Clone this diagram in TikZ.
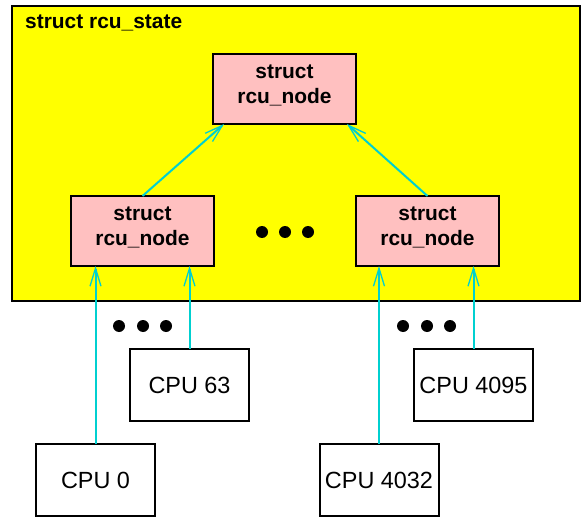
\documentclass[tikz,border=0pt]{standalone}
\usepackage{fontspec}
\setmainfont{Liberation Sans}
\usetikzlibrary{arrows.meta,calc}
\definecolor{ylw}{RGB}{255,255,0}
\definecolor{pnk}{RGB}{255,192,192}
\definecolor{cyn}{RGB}{0,208,208}
\tikzset{
  rcubox/.style={draw=black, line width=2bp, fill=pnk, minimum width=143bp, minimum height=70bp, outer sep=0pt, inner sep=0pt,
    label={[font=\fontsize{21}{24.5}\selectfont\bfseries, align=center, yshift=3.5bp, inner sep=0pt]center:struct\\rcu\_node}},
  cpubox/.style={draw=black, line width=2bp, fill=white, minimum width=119bp, minimum height=72bp, outer sep=0pt, font=\fontsize{23.5}{27}\selectfont},
  link/.style={draw=cyn, line width=2bp, -{Straight Barb[length=18bp,width=11bp,line width=1.3bp]}},
  dotc/.style={fill=black, circle, inner sep=0pt, minimum size=12bp},
}
\begin{document}
\begin{tikzpicture}[x=1bp,y=-1bp]
\useasboundingbox (0,0) rectangle (583,519);
\node[draw=black, line width=2bp, fill=ylw, minimum width=568bp, minimum height=295bp, outer sep=0pt, anchor=north west] (state) at (12,6) {};
\node[anchor=base west, font=\fontsize{21}{24}\selectfont\bfseries, inner sep=0pt] (title) at (25,29) {struct rcu\_state};
\node[rcubox] (top) at (284.5,89) {};
\node[rcubox] (lnode) at (142.5,231) {};
\node[rcubox] (rnode) at (427.5,231) {};
\node[dotc] (m1) at (262,232) {};
\node[dotc] (m2) at (285,232) {};
\node[dotc] (m3) at (308,232) {};
\node[cpubox] (cpu0) at (95.5,480) {CPU 0};
\node[cpubox] (cpu63) at (189.5,385) {CPU 63};
\node[cpubox] (cpu4032) at (379,480) {CPU 4032};
\node[cpubox] (cpu4095) at (473.5,385) {CPU 4095};
\node[dotc] (l1) at (119,326) {};
\node[dotc] (l2) at (143,326) {};
\node[dotc] (l3) at (166,326) {};
\node[dotc] (r1) at (403,326) {};
\node[dotc] (r2) at (427,326) {};
\node[dotc] (r3) at (450,326) {};
\draw[link] (lnode.north) -- ($(top.south west)!0.077!(top.south east)$);
\draw[link] (rnode.north) -- ($(top.south west)!0.937!(top.south east)$);
\draw[link] (cpu0.north) -- (cpu0.north |- lnode.south);
\draw[link] (cpu63.north) -- (cpu63.north |- lnode.south);
\draw[link] (cpu4032.north) -- (cpu4032.north |- rnode.south);
\draw[link] (cpu4095.north) -- (cpu4095.north |- rnode.south);
\end{tikzpicture}
\end{document}
